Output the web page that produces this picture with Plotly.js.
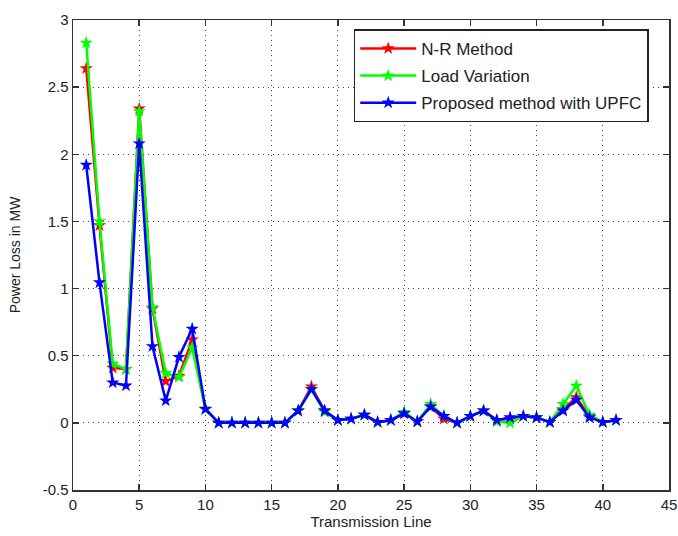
<!DOCTYPE html>
<html>
<head>
<meta charset="utf-8">
<script src="https://cdn.plot.ly/plotly-3.0.1.min.js"></script>
<style>html,body{margin:0;padding:0;background:#fff;}#chart{width:678px;height:536px;}</style>
</head>
<body>
<div id="chart"></div>
<script>
const lines = [1,2,3,4,5,6,7,8,9,10,11,12,13,14,15,16,17,18,19,20,21,22,23,24,25,26,27,28,29,30,31,32,33,34,35,36,37,38,39,40,41];
const nrMethod = [2.64,1.47,0.41,0.40,2.34,0.85,0.31,0.35,0.62,0.10,0,0,0,0,0,0,0.09,0.27,0.09,0.02,0.03,0.06,0.005,0.02,0.07,0.01,0.12,0.03,0,0.05,0.09,0.02,0.03,0.05,0.04,0.005,0.10,0.19,0.05,0.005,0.02];
const loadVariation = [2.83,1.50,0.44,0.40,2.32,0.86,0.37,0.34,0.56,0.10,0,0,0,0,0,0,0.09,0.25,0.08,0.02,0.03,0.06,0.005,0.02,0.08,0.01,0.14,0.05,0,0.05,0.09,0.01,0.0,0.05,0.04,0.005,0.14,0.275,0.06,0.005,0.02];
const proposedUPFC = [1.92,1.045,0.30,0.277,2.08,0.57,0.166,0.49,0.70,0.104,0,0,0,0,0,0,0.09,0.25,0.09,0.02,0.03,0.06,0.005,0.02,0.07,0.01,0.12,0.05,0,0.05,0.09,0.02,0.04,0.05,0.04,0.005,0.09,0.17,0.04,0.005,0.02];
const seriesNames = ['N-R Method','Load Variation','Proposed method with UPFC'];
const xTicks = [0,5,10,15,20,25,30,35,40,45];
const yTicks = [-0.5,0,0.5,1,1.5,2,2.5,3];
const yTickText = ['-0.5','0','0.5','1','1.5','2','2.5','3'];

const colors = ['#ff0000','#00ff00','#0000ff'];
const data = [nrMethod, loadVariation, proposedUPFC].map((ys,i)=>({
  x: lines, y: ys, type:'scatter', mode:'lines+markers',
  name: seriesNames[i], legendgroup: 'g'+i,
  line:{color:colors[i], width:2.5},
  marker:{symbol:'star', size:10, color:colors[i], line:{width:0}}
}));

const axisCommon = {
  showline:true, mirror:'ticks', linecolor:'#333', linewidth:1.5,
  ticks:'inside', ticklen:6, tickcolor:'#333', tickwidth:1.5,
  showgrid:true, gridcolor:'#444', griddash:'1px,4px', gridwidth:1,
  zeroline:false,
  tickfont:{family:'Liberation Sans, Arial, sans-serif', size:15, color:'#222'}
};

const layout = {
  width:678, height:536,
  margin:{l:73, r:9, t:20, b:46},
  paper_bgcolor:'#fff', plot_bgcolor:'#fff',
  showlegend:true,
  legend:{x:0.471, y:0.98, xanchor:'left', yanchor:'top',
    bordercolor:'#222', borderwidth:1.5, bgcolor:'#fff',
    tracegroupgap:2, itemwidth:56,
    font:{family:'Liberation Sans, Arial, sans-serif', size:17, color:'#222'}},
  xaxis:Object.assign({}, axisCommon, {range:[0,45], tickvals:xTicks, ticktext:xTicks.map(String),
    title:{text:'Transmission Line', font:{family:'Liberation Sans, Arial, sans-serif', size:15, color:'#222'}, standoff:4}}),
  yaxis:Object.assign({}, axisCommon, {range:[-0.5,3], tickvals:yTicks, ticktext:yTickText,
    title:{text:'Power Loss in MW', font:{family:'Liberation Sans, Arial, sans-serif', size:14, color:'#222'}, standoff:18}})
};

Plotly.newPlot('chart', data, layout, {displayModeBar:false, staticPlot:true});
</script>
</body>
</html>
